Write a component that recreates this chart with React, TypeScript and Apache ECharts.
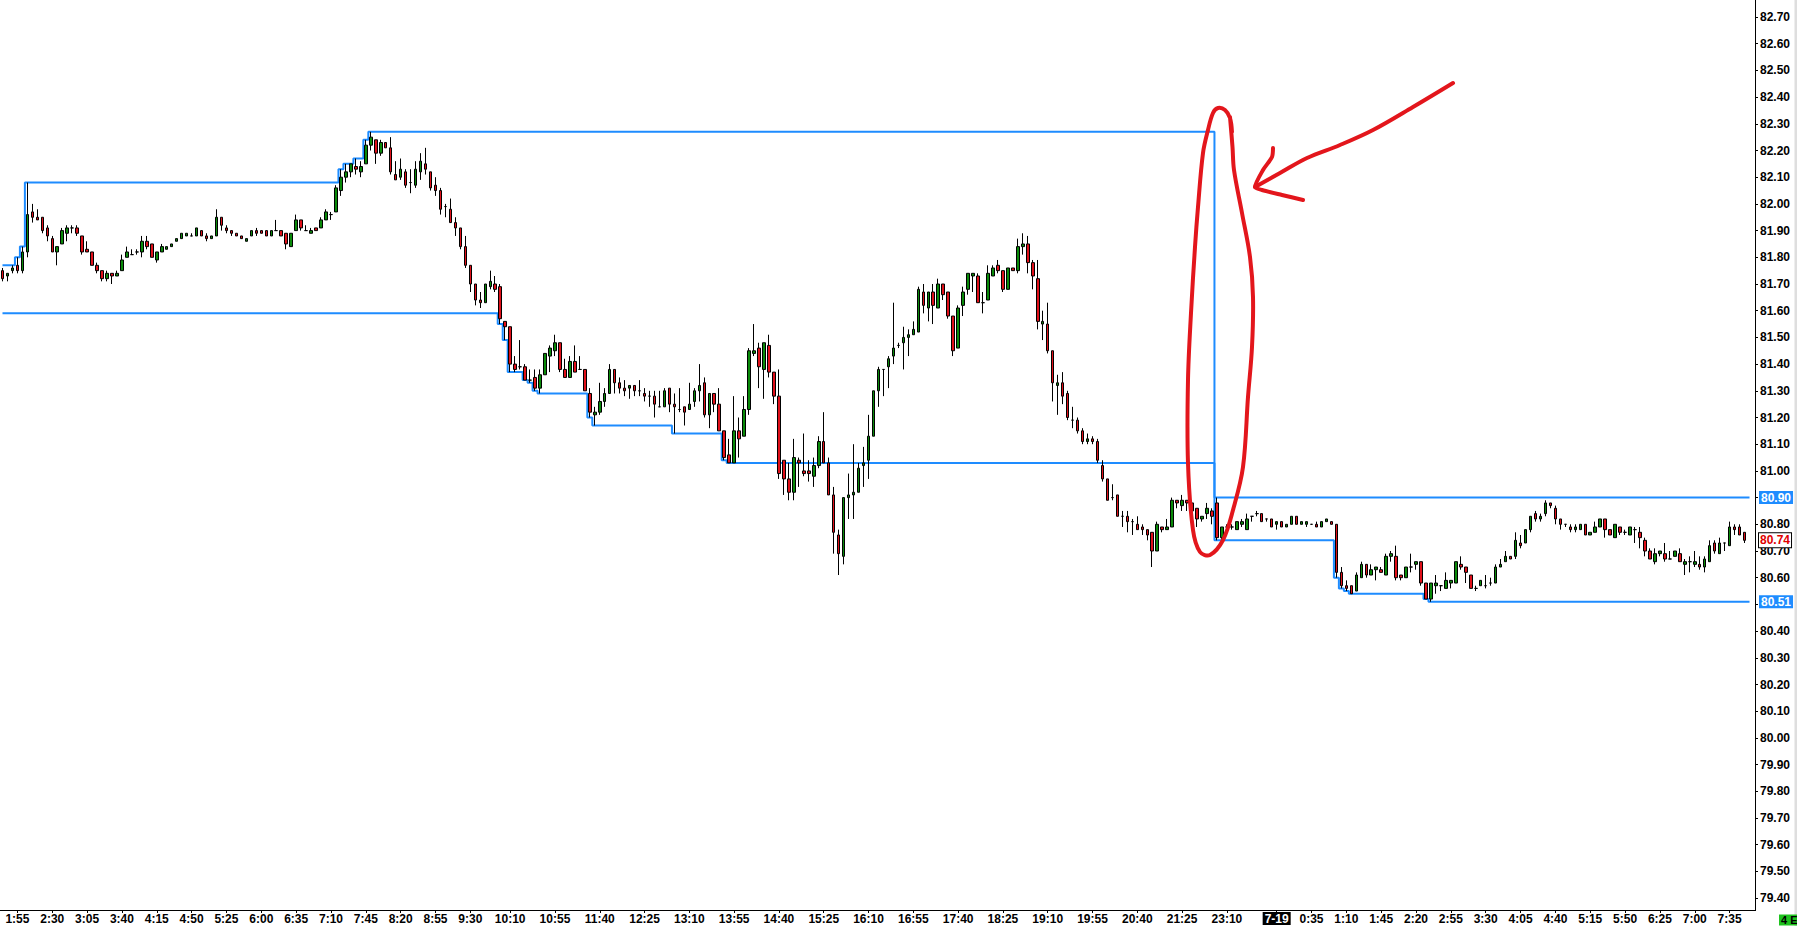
import React, { useEffect, useRef } from "react";
import * as echarts from "echarts";

// [open, close, low, high]
type Candle = [number, number, number, number];

const DAY1 = "7-18";
const DAY2 = "7-19";
const FIRST_BAR = "1:40";
const BAR_MINUTES = 5;
const CLOSED_FROM = "22:00";
const CLOSED_TO = "23:00";
const EXTRA_SLOTS = 1;

const PRIOR_HIGH = 81.77;
const PRIOR_LOW = 81.59;
const SESSION1_RANGE_END = "7-18 14:35";
const SESSION2_START = "7-18 23:00";

const candlesMorning: Candle[] = [
  [81.75, 81.72, 81.71, 81.76], [81.73, 81.74, 81.71, 81.74], [81.75, 81.76, 81.74, 81.77], [81.77, 81.75, 81.74, 81.80],
  [81.75, 81.82, 81.74, 81.84], [81.82, 81.96, 81.80, 82.08], [81.97, 81.95, 81.93, 82.00], [81.95, 81.94, 81.94, 81.98],
  [81.95, 81.90, 81.89, 81.95], [81.91, 81.88, 81.86, 81.92], [81.87, 81.82, 81.82, 81.88], [81.82, 81.84, 81.77, 81.84],
  [81.85, 81.90, 81.85, 81.91], [81.89, 81.91, 81.86, 81.92], [81.91, 81.91, 81.89, 81.92], [81.91, 81.89, 81.88, 81.92],
  [81.88, 81.82, 81.81, 81.88], [81.83, 81.82, 81.82, 81.86], [81.82, 81.77, 81.77, 81.82], [81.77, 81.75, 81.74, 81.78],
  [81.75, 81.72, 81.71, 81.75], [81.72, 81.74, 81.71, 81.75], [81.74, 81.73, 81.70, 81.74], [81.73, 81.74, 81.73, 81.75],
  [81.75, 81.79, 81.75, 81.81], [81.80, 81.82, 81.80, 81.84], [81.81, 81.81, 81.81, 81.83], [81.82, 81.82, 81.81, 81.83],
  [81.82, 81.86, 81.80, 81.88], [81.86, 81.84, 81.83, 81.88], [81.85, 81.80, 81.80, 81.85], [81.79, 81.82, 81.78, 81.82],
  [81.82, 81.84, 81.82, 81.85], [81.83, 81.84, 81.83, 81.84], [81.84, 81.85, 81.84, 81.85], [81.86, 81.87, 81.86, 81.87],
  [81.87, 81.89, 81.87, 81.89], [81.88, 81.89, 81.88, 81.89], [81.88, 81.88, 81.88, 81.89], [81.88, 81.91, 81.88, 81.91],
  [81.90, 81.88, 81.88, 81.90], [81.88, 81.87, 81.86, 81.89], [81.87, 81.88, 81.87, 81.88], [81.88, 81.95, 81.88, 81.98],
  [81.95, 81.92, 81.90, 81.95], [81.91, 81.90, 81.89, 81.92], [81.90, 81.89, 81.88, 81.90], [81.89, 81.88, 81.88, 81.89],
  [81.88, 81.87, 81.87, 81.88], [81.86, 81.87, 81.86, 81.87], [81.88, 81.90, 81.88, 81.90], [81.90, 81.89, 81.88, 81.91],
  [81.90, 81.89, 81.89, 81.90], [81.90, 81.88, 81.88, 81.90], [81.88, 81.90, 81.88, 81.90], [81.90, 81.90, 81.90, 81.94],
  [81.90, 81.88, 81.88, 81.90], [81.89, 81.85, 81.83, 81.89], [81.84, 81.89, 81.84, 81.89], [81.90, 81.94, 81.90, 81.96],
  [81.94, 81.91, 81.90, 81.94], [81.90, 81.90, 81.90, 81.92], [81.89, 81.90, 81.89, 81.91], [81.91, 81.90, 81.90, 81.91],
  [81.91, 81.94, 81.91, 81.95], [81.94, 81.97, 81.94, 81.98], [81.96, 81.96, 81.94, 81.97], [81.97, 82.06, 81.97, 82.07],
  [82.05, 82.10, 82.03, 82.13], [82.10, 82.12, 82.08, 82.15], [82.12, 82.15, 82.10, 82.15], [82.14, 82.13, 82.11, 82.17],
  [82.12, 82.14, 82.10, 82.16], [82.15, 82.22, 82.15, 82.24], [82.22, 82.25, 82.20, 82.27], [82.24, 82.19, 82.15, 82.24],
  [82.19, 82.23, 82.18, 82.24], [82.23, 82.21, 82.21, 82.23], [82.21, 82.12, 82.11, 82.25], [82.11, 82.09, 82.09, 82.16],
  [82.10, 82.13, 82.09, 82.17], [82.12, 82.07, 82.06, 82.13], [82.08, 82.08, 82.04, 82.13], [82.07, 82.13, 82.06, 82.16],
  [82.12, 82.16, 82.09, 82.19], [82.15, 82.13, 82.11, 82.21], [82.12, 82.06, 82.05, 82.12], [82.07, 82.05, 82.03, 82.10],
  [82.05, 81.98, 81.96, 82.06], [81.99, 81.99, 81.95, 82.00], [81.98, 81.93, 81.93, 82.02], [81.93, 81.91, 81.88, 81.95],
  [81.91, 81.84, 81.83, 81.91], [81.84, 81.77, 81.76, 81.88], [81.77, 81.70, 81.67, 81.77], [81.70, 81.64, 81.62, 81.70],
  [81.64, 81.63, 81.61, 81.67], [81.63, 81.70, 81.63, 81.70], [81.69, 81.71, 81.68, 81.75], [81.70, 81.68, 81.67, 81.73],
];

const candlesMidday: Candle[] = [
  [81.69, 81.57, 81.55, 81.70], [81.56, 81.54, 81.49, 81.56], [81.54, 81.40, 81.37, 81.54], [81.40, 81.38, 81.37, 81.43],
  [81.39, 81.39, 81.38, 81.49], [81.39, 81.34, 81.34, 81.40], [81.34, 81.34, 81.33, 81.38], [81.35, 81.31, 81.30, 81.38],
  [81.31, 81.36, 81.29, 81.38], [81.36, 81.44, 81.36, 81.44], [81.43, 81.46, 81.37, 81.47], [81.45, 81.48, 81.43, 81.51],
  [81.48, 81.38, 81.37, 81.48], [81.38, 81.35, 81.35, 81.42], [81.35, 81.41, 81.35, 81.43], [81.41, 81.37, 81.37, 81.47],
  [81.38, 81.38, 81.38, 81.43], [81.38, 81.30, 81.30, 81.38], [81.29, 81.22, 81.20, 81.31], [81.21, 81.22, 81.17, 81.24],
  [81.22, 81.26, 81.21, 81.33], [81.26, 81.29, 81.24, 81.31], [81.29, 81.38, 81.29, 81.40], [81.38, 81.33, 81.29, 81.38],
  [81.33, 81.31, 81.29, 81.35], [81.31, 81.30, 81.28, 81.34], [81.31, 81.32, 81.27, 81.32], [81.32, 81.30, 81.28, 81.32],
  [81.30, 81.30, 81.28, 81.34], [81.29, 81.28, 81.26, 81.31], [81.28, 81.28, 81.24, 81.30], [81.28, 81.25, 81.20, 81.30],
  [81.24, 81.24, 81.24, 81.30], [81.24, 81.30, 81.24, 81.31], [81.31, 81.25, 81.22, 81.31], [81.25, 81.24, 81.14, 81.29],
  [81.23, 81.23, 81.22, 81.31], [81.24, 81.22, 81.17, 81.24], [81.23, 81.25, 81.23, 81.33], [81.26, 81.30, 81.24, 81.31],
  [81.30, 81.32, 81.26, 81.40], [81.33, 81.21, 81.20, 81.35], [81.21, 81.29, 81.16, 81.29], [81.29, 81.25, 81.22, 81.29],
  [81.25, 81.15, 81.15, 81.31], [81.15, 81.05, 81.04, 81.15], [81.06, 81.03, 81.03, 81.12], [81.03, 81.15, 81.03, 81.28],
  [81.15, 81.12, 81.05, 81.20], [81.13, 81.23, 81.13, 81.28], [81.23, 81.45, 81.21, 81.46], [81.44, 81.45, 81.43, 81.55],
  [81.46, 81.39, 81.31, 81.48], [81.38, 81.48, 81.27, 81.48], [81.47, 81.37, 81.35, 81.51], [81.37, 81.28, 81.25, 81.37],
];

const candlesAfternoon: Candle[] = [
  [81.28, 80.99, 80.97, 81.38], [81.04, 80.97, 80.91, 81.04], [80.97, 80.92, 80.89, 81.03], [80.92, 81.05, 80.89, 81.12],
  [81.04, 81.03, 80.94, 81.05], [81.00, 80.99, 80.98, 81.14], [81.00, 80.99, 80.96, 81.04], [80.98, 81.02, 80.94, 81.05],
  [81.02, 81.11, 81.01, 81.13], [81.11, 81.03, 81.03, 81.22], [81.03, 80.91, 80.91, 81.05], [80.91, 80.77, 80.69, 80.94],
  [80.76, 80.69, 80.61, 80.78], [80.68, 80.90, 80.65, 80.90], [80.90, 80.91, 80.82, 80.99], [80.91, 80.92, 80.82, 81.10],
  [80.92, 81.01, 80.92, 81.03], [81.02, 81.03, 80.94, 81.09], [81.04, 81.13, 80.97, 81.21], [81.13, 81.30, 81.13, 81.30],
  [81.30, 81.38, 81.24, 81.39], [81.38, 81.38, 81.28, 81.38], [81.39, 81.42, 81.31, 81.43], [81.43, 81.46, 81.40, 81.63],
  [81.47, 81.47, 81.46, 81.48], [81.48, 81.50, 81.38, 81.54], [81.50, 81.51, 81.43, 81.53], [81.51, 81.53, 81.51, 81.56],
  [81.52, 81.68, 81.52, 81.69], [81.67, 81.62, 81.59, 81.70], [81.61, 81.67, 81.56, 81.67], [81.67, 81.62, 81.55, 81.70],
  [81.61, 81.70, 81.61, 81.72], [81.70, 81.66, 81.64, 81.70], [81.67, 81.58, 81.57, 81.67], [81.58, 81.45, 81.43, 81.58],
  [81.46, 81.61, 81.46, 81.62], [81.62, 81.67, 81.58, 81.69], [81.68, 81.74, 81.66, 81.74], [81.73, 81.74, 81.67, 81.74],
  [81.73, 81.63, 81.63, 81.74], [81.63, 81.63, 81.59, 81.67], [81.64, 81.74, 81.64, 81.77], [81.73, 81.76, 81.73, 81.77],
  [81.77, 81.75, 81.74, 81.79], [81.75, 81.68, 81.67, 81.75], [81.68, 81.76, 81.68, 81.76], [81.76, 81.75, 81.75, 81.76],
  [81.75, 81.84, 81.74, 81.87], [81.84, 81.85, 81.81, 81.89], [81.85, 81.78, 81.74, 81.88], [81.78, 81.73, 81.68, 81.79],
  [81.72, 81.56, 81.53, 81.79], [81.55, 81.56, 81.49, 81.60], [81.55, 81.45, 81.44, 81.63], [81.45, 81.33, 81.26, 81.45],
  [81.32, 81.33, 81.21, 81.36], [81.33, 81.28, 81.25, 81.37], [81.29, 81.20, 81.19, 81.30], [81.19, 81.19, 81.16, 81.24],
];

const candlesEvening: Candle[] = [
  [81.19, 81.15, 81.14, 81.20], [81.15, 81.11, 81.10, 81.16], [81.11, 81.12, 81.10, 81.14], [81.12, 81.11, 81.10, 81.13],
  [81.11, 81.04, 81.03, 81.12], [81.02, 80.97, 80.96, 81.04], [80.97, 80.89, 80.89, 80.97], [80.90, 80.90, 80.89, 80.95],
  [80.91, 80.83, 80.83, 80.91], [80.83, 80.83, 80.79, 80.85], [80.83, 80.81, 80.77, 80.85], [80.81, 80.81, 80.76, 80.82],
  [80.80, 80.78, 80.78, 80.83], [80.79, 80.78, 80.76, 80.80], [80.78, 80.76, 80.74, 80.78], [80.77, 80.70, 80.64, 80.77],
  [80.70, 80.80, 80.70, 80.81], [80.79, 80.78, 80.77, 80.79], [80.78, 80.79, 80.78, 80.82], [80.79, 80.89, 80.79, 80.90],
  [80.89, 80.88, 80.86, 80.89], [80.87, 80.89, 80.85, 80.91], [80.89, 80.88, 80.85, 80.89], [80.88, 80.85, 80.84, 80.89],
  [80.86, 80.82, 80.79, 80.86], [80.82, 80.83, 80.81, 80.83], [80.84, 80.86, 80.82, 80.88], [80.85, 80.83, 80.80, 80.86],
];

const candlesNight: Candle[] = [
  [80.88, 80.75, 80.74, 80.90], [80.75, 80.79, 80.74, 80.79], [80.79, 80.79, 80.78, 80.80], [80.79, 80.79, 80.78, 80.80],
  [80.78, 80.81, 80.78, 80.81], [80.80, 80.81, 80.79, 80.82], [80.78, 80.82, 80.78, 80.84], [80.83, 80.83, 80.81, 80.83],
  [80.84, 80.84, 80.83, 80.85], [80.84, 80.81, 80.81, 80.84], [80.82, 80.82, 80.81, 80.82], [80.82, 80.79, 80.79, 80.82],
  [80.80, 80.81, 80.78, 80.81], [80.81, 80.79, 80.79, 80.81], [80.79, 80.80, 80.79, 80.80], [80.80, 80.83, 80.80, 80.83],
  [80.83, 80.80, 80.80, 80.83], [80.80, 80.81, 80.80, 80.81], [80.80, 80.81, 80.79, 80.81], [80.80, 80.80, 80.80, 80.80],
  [80.80, 80.79, 80.79, 80.81], [80.79, 80.81, 80.79, 80.81], [80.81, 80.82, 80.81, 80.82], [80.81, 80.80, 80.80, 80.81],
  [80.80, 80.62, 80.60, 80.80], [80.62, 80.57, 80.56, 80.64], [80.57, 80.56, 80.55, 80.59], [80.57, 80.54, 80.54, 80.57],
  [80.55, 80.61, 80.55, 80.62], [80.60, 80.65, 80.60, 80.66], [80.65, 80.61, 80.60, 80.65], [80.61, 80.63, 80.61, 80.65],
  [80.63, 80.64, 80.59, 80.64], [80.63, 80.62, 80.62, 80.64], [80.61, 80.68, 80.61, 80.69], [80.68, 80.69, 80.66, 80.70],
  [80.68, 80.60, 80.59, 80.72], [80.61, 80.60, 80.59, 80.61], [80.60, 80.64, 80.60, 80.64], [80.64, 80.64, 80.62, 80.69],
  [80.65, 80.66, 80.63, 80.66], [80.66, 80.58, 80.57, 80.66], [80.58, 80.52, 80.52, 80.58], [80.52, 80.58, 80.51, 80.58],
  [80.57, 80.58, 80.54, 80.61], [80.57, 80.57, 80.55, 80.57], [80.56, 80.59, 80.56, 80.62], [80.58, 80.59, 80.56, 80.59],
  [80.58, 80.66, 80.58, 80.66], [80.65, 80.64, 80.63, 80.68], [80.64, 80.62, 80.58, 80.64], [80.61, 80.56, 80.56, 80.61],
  [80.56, 80.56, 80.55, 80.57], [80.57, 80.59, 80.57, 80.59], [80.57, 80.57, 80.56, 80.61], [80.58, 80.58, 80.57, 80.60],
  [80.58, 80.64, 80.58, 80.65], [80.64, 80.65, 80.64, 80.67], [80.66, 80.68, 80.66, 80.70], [80.68, 80.67, 80.67, 80.68],
  [80.68, 80.74, 80.67, 80.77], [80.73, 80.72, 80.71, 80.76], [80.73, 80.78, 80.73, 80.78], [80.78, 80.83, 80.77, 80.83],
  [80.84, 80.82, 80.81, 80.85], [80.82, 80.83, 80.81, 80.84],
];

const candlesDawn: Candle[] = [
  [80.84, 80.88, 80.83, 80.89], [80.88, 80.87, 80.86, 80.88], [80.86, 80.82, 80.80, 80.87], [80.82, 80.80, 80.78, 80.82],
  [80.80, 80.80, 80.79, 80.80], [80.79, 80.78, 80.77, 80.80], [80.78, 80.79, 80.77, 80.80], [80.78, 80.80, 80.78, 80.80],
  [80.80, 80.76, 80.76, 80.80], [80.76, 80.77, 80.76, 80.77], [80.77, 80.79, 80.77, 80.81], [80.79, 80.82, 80.79, 80.82],
  [80.82, 80.78, 80.75, 80.82], [80.78, 80.76, 80.76, 80.78], [80.75, 80.80, 80.75, 80.80], [80.79, 80.77, 80.76, 80.79],
  [80.77, 80.77, 80.76, 80.78], [80.76, 80.79, 80.76, 80.79], [80.78, 80.78, 80.73, 80.79], [80.77, 80.75, 80.71, 80.79],
  [80.74, 80.70, 80.68, 80.75], [80.70, 80.67, 80.67, 80.71], [80.66, 80.69, 80.65, 80.71], [80.69, 80.70, 80.68, 80.70],
  [80.69, 80.67, 80.66, 80.73], [80.67, 80.67, 80.67, 80.70], [80.68, 80.70, 80.68, 80.70], [80.69, 80.66, 80.66, 80.71],
  [80.65, 80.66, 80.61, 80.67], [80.66, 80.66, 80.62, 80.68], [80.65, 80.66, 80.64, 80.70], [80.65, 80.64, 80.63, 80.68],
  [80.64, 80.67, 80.62, 80.68], [80.66, 80.72, 80.66, 80.74], [80.73, 80.70, 80.69, 80.74], [80.69, 80.73, 80.69, 80.75],
  [80.73, 80.73, 80.70, 80.73], [80.72, 80.79, 80.72, 80.81], [80.79, 80.78, 80.76, 80.80], [80.79, 80.76, 80.76, 80.80],
  [80.77, 80.74, 80.73, 80.77],
];

const xTickLabels: string[] = [
  "7-18 1:55", "7-18 2:30", "7-18 3:05", "7-18 3:40", "7-18 4:15", "7-18 4:50", "7-18 5:25", "7-18 6:00",
  "7-18 6:35", "7-18 7:10", "7-18 7:45", "7-18 8:20", "7-18 8:55", "7-18 9:30", "7-18 10:10", "7-18 10:55",
  "7-18 11:40", "7-18 12:25", "7-18 13:10", "7-18 13:55", "7-18 14:40", "7-18 15:25", "7-18 16:10", "7-18 16:55",
  "7-18 17:40", "7-18 18:25", "7-18 19:10", "7-18 19:55", "7-18 20:40", "7-18 21:25", "7-18 23:10",
  "7-19 0:00", "7-19 0:35", "7-19 1:10", "7-19 1:45", "7-19 2:20", "7-19 2:55", "7-19 3:30", "7-19 4:05",
  "7-19 4:40", "7-19 5:15", "7-19 5:50", "7-19 6:25", "7-19 7:00", "7-19 7:35",
];

const yTickValues: number[] = [
  79.4, 79.5, 79.6, 79.7, 79.8, 79.9, 80.0, 80.1, 80.2, 80.3, 80.4, 80.5, 80.6, 80.7, 80.8, 80.9,
  81.0, 81.1, 81.2, 81.3, 81.4, 81.5, 81.6, 81.7, 81.8, 81.9, 82.0, 82.1, 82.2, 82.3, 82.4, 82.5, 82.6, 82.7,
];

const candles: Candle[] = [
  ...candlesMorning, ...candlesMidday, ...candlesAfternoon, ...candlesEvening, ...candlesNight, ...candlesDawn,
];

const toMin = (s: string) => {
  const [h, m] = s.split(":").map(Number);
  return h * 60 + m;
};
const fmtMin = (m: number) => `${Math.floor(m / 60)}:${String(m % 60).padStart(2, "0")}`;

function buildCategories(n: number): string[] {
  const out: string[] = [];
  let day = DAY1;
  let m = toMin(FIRST_BAR);
  const cf = toMin(CLOSED_FROM);
  const ct = toMin(CLOSED_TO);
  while (out.length < n) {
    if (m >= 24 * 60) {
      m -= 24 * 60;
      day = DAY2;
    }
    if (!(m >= cf && m < ct)) out.push(`${day} ${fmtMin(m)}`);
    m += BAR_MINUTES;
  }
  return out;
}

const categories = buildCategories(candles.length + EXTRA_SLOTS);

function buildRangeLines() {
  const s2 = categories.indexOf(SESSION2_START);
  const end1 = categories.indexOf(SESSION1_RANGE_END);
  const highs: number[] = [];
  const lows: number[] = [];
  let hi = PRIOR_HIGH;
  let lo = PRIOR_LOW;
  for (let i = 0; i < categories.length; i++) {
    if (i === s2) {
      hi = -Infinity;
      lo = Infinity;
    }
    const inWindow = i < s2 ? i <= end1 : true;
    if (i < candles.length && inWindow) {
      hi = Math.max(hi, candles[i][3]);
      lo = Math.min(lo, candles[i][2]);
    }
    highs.push(hi);
    lows.push(lo);
  }
  return { highs, lows };
}

const { highs: rangeHigh, lows: rangeLow } = buildRangeLines();
const tickSet = new Set(xTickLabels);

const FONT = "Liberation Sans";
const BLUE = "#1e8cff";
const RED_INK = "#e3161c";

const ellipsePts = [
  [1230, 117], [1232.5, 147], [1234, 170], [1242, 213], [1250, 257], [1253, 297], [1252, 347], [1248, 397],
  [1243, 467], [1233, 510], [1223, 540], [1210, 555], [1200, 552], [1193, 530], [1188, 463], [1188, 380],
  [1191, 313], [1195, 247], [1198, 207], [1203, 153], [1208, 130], [1213, 113], [1218, 108], [1225, 110],
  [1230, 118], [1232, 132],
];
const arrowShaft = [[1453, 83], [1413, 107], [1373, 130], [1340, 145], [1307, 158], [1280, 173], [1255, 187]];
const arrowHead = [[1273, 148], [1272, 157], [1263, 170], [1255, 187], [1262, 190], [1282, 195], [1303, 200]];

export default function App() {
  const ref = useRef<HTMLDivElement>(null);
  useEffect(() => {
    document.body.style.margin = "0";
    const chart = echarts.init(ref.current!, null, { renderer: "svg" });
    chart.setOption({
      animation: false,
      backgroundColor: "#ffffff",
      grid: { left: -1, right: 45, top: 0, bottom: 16, containLabel: false },
      xAxis: {
        type: "category",
        data: categories,
        boundaryGap: true,
        axisLine: { show: true, lineStyle: { color: "#000", width: 1 } },
        axisTick: {
          show: true,
          alignWithLabel: true,
          length: 3,
          lineStyle: { color: "#000" },
          interval: (_i: number, v: string) => tickSet.has(v),
        },
        axisLabel: {
          interval: (_i: number, v: string) => tickSet.has(v),
          hideOverlap: false,
          margin: 2,
          color: "#000",
          fontFamily: FONT,
          fontWeight: "bold",
          fontSize: 12,
          lineHeight: 13,
          formatter: (v: string) => {
            const [d, t] = v.split(" ");
            if (t === "0:00") return `{d|${d}}`;
            return t;
          },
          rich: {
            d: {
              backgroundColor: "#000",
              color: "#fff",
              fontFamily: FONT,
              fontWeight: "bold",
              fontSize: 12,
              padding: [1, 2, 0, 2],
              lineHeight: 13,
            },
          },
        },
        splitLine: { show: false },
      },
      yAxis: {
        type: "value",
        position: "right",
        offset: 3,
        min: 82.7 - 893 / 267,
        max: 82.7 + 17 / 267,
        axisLine: { show: true, lineStyle: { color: "#000", width: 1 } },
        axisTick: { show: true, length: 3, lineStyle: { color: "#000" }, customValues: yTickValues },
        axisLabel: {
          customValues: yTickValues,
          margin: 5,
          color: "#000",
          fontFamily: FONT,
          fontWeight: "bold",
          fontSize: 12,
          formatter: (v: number) => v.toFixed(2),
        },
        splitLine: { show: false },
      },
      series: [
        {
          type: "line",
          data: rangeHigh,
          step: "middle",
          symbol: "none",
          z: 2,
          lineStyle: { color: BLUE, width: 2 },
        },
        {
          type: "line",
          data: rangeLow,
          step: "middle",
          symbol: "none",
          z: 2,
          lineStyle: { color: BLUE, width: 2 },
        },
        {
          type: "candlestick",
          data: candles,
          barWidth: 3,
          z: 3,
          itemStyle: {
            color: "#0a8a0a",
            color0: "#e0101a",
            borderColor: "#000",
            borderColor0: "#000",
            borderWidth: 1,
          },
        },
      ],
    });

    const py = (v: number) => chart.convertToPixel({ yAxisIndex: 0 }, v) as number;
    const last = candles[candles.length - 1][1];
    const sHigh = rangeHigh[rangeHigh.length - 1];
    const sLow = rangeLow[rangeLow.length - 1];
    const tagFont = `bold 12px "${FONT}"`;
    const LABEL_X = 1759;

    chart.setOption({
      graphic: [
        { type: "rect", z: 50, shape: { x: 1794.5, y: 0, width: 3, height: 926 }, style: { fill: "#dedede" } },
        {
          type: "text", z: 60, x: LABEL_X, y: py(sHigh),
          style: { text: sHigh.toFixed(2), fill: "#fff", font: tagFont, backgroundColor: BLUE, padding: [1, 2, 0, 2], align: "left", verticalAlign: "middle" },
        },
        {
          type: "text", z: 60, x: LABEL_X, y: py(sLow),
          style: { text: sLow.toFixed(2), fill: "#fff", font: tagFont, backgroundColor: BLUE, padding: [1, 2, 0, 2], align: "left", verticalAlign: "middle" },
        },
        {
          type: "text", z: 60, x: LABEL_X, y: py(last),
          style: { text: last.toFixed(2), fill: "#e00000", font: tagFont, backgroundColor: "#fff", borderColor: "#000", borderWidth: 1, padding: [1, 1, 1, 1], align: "left", verticalAlign: "middle" },
        },
        {
          type: "text", z: 60, x: 1779, y: 920,
          style: { text: "4 E", fill: "#000", font: `bold 11px "${FONT}"`, backgroundColor: "#1ec31e", padding: [0, 1, 0, 2], align: "left", verticalAlign: "middle" },
        },
        {
          type: "polyline", z: 80, shape: { points: ellipsePts, smooth: 0.35 },
          style: { stroke: RED_INK, lineWidth: 4, fill: "none", lineCap: "round", lineJoin: "round" },
        },
        {
          type: "polyline", z: 80, shape: { points: arrowShaft, smooth: 0.35 },
          style: { stroke: RED_INK, lineWidth: 4, fill: "none", lineCap: "round", lineJoin: "round" },
        },
        {
          type: "polyline", z: 80, shape: { points: arrowHead, smooth: 0.25 },
          style: { stroke: RED_INK, lineWidth: 4, fill: "none", lineCap: "round", lineJoin: "round" },
        },
        { type: "line", z: 50, shape: { x1: 1751, y1: 910.5, x2: 1756, y2: 910.5 }, style: { stroke: "#000", lineWidth: 1 } },
      ],
    });

    return () => chart.dispose();
  }, []);
  return (
    <div
      ref={ref}
      style={{ position: "absolute", left: 0, top: 0, width: 1797, height: 926, background: "#fff" }}
    />
  );
}
